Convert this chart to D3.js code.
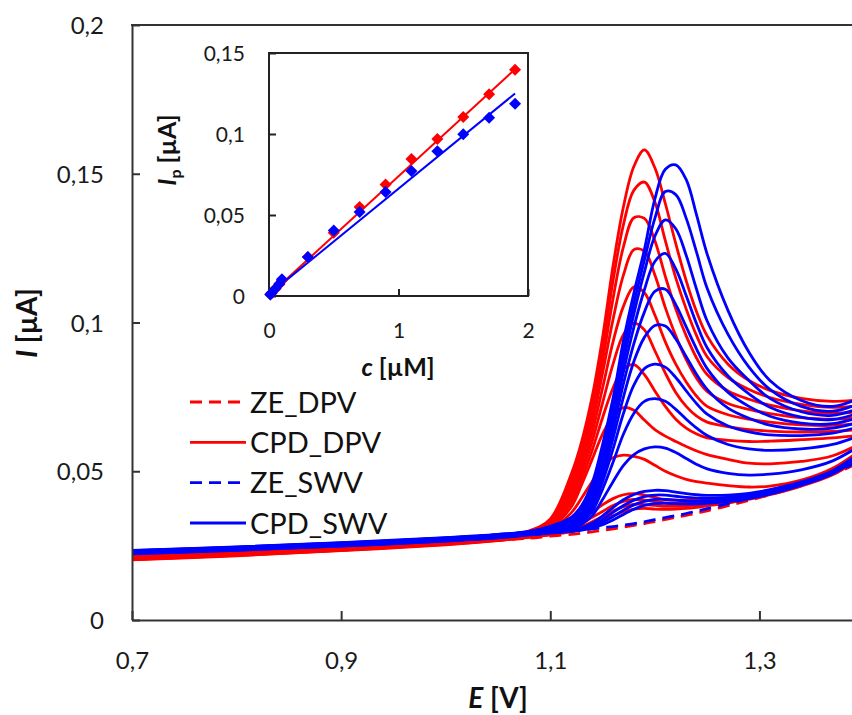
<!DOCTYPE html>
<html lang="en">
<head>
<meta charset="UTF-8">
<title>DPV / SWV voltammograms</title>
<script src="https://cdn.jsdelivr.net/npm/d3@7"></script>
<style>
  body { margin: 0; background: #fff; }
  svg { display: block; font-family: Lato, "Open Sans", sans-serif; }
</style>
</head>
<body>
<svg width="852" height="715"></svg>
<script>
// potential grid (V), shared by every voltammogram
var potentials = [0.70, 0.80, 0.90, 1.00, 1.05, 1.08, 1.10, 1.12, 1.13, 1.14, 1.15, 1.16, 1.17, 1.18, 1.19,
                  1.20, 1.21, 1.22, 1.23, 1.24, 1.25, 1.27, 1.29, 1.31, 1.34, 1.37, 1.40];

// blank electrode, DPV (uA)
var zeDpv = [0.0205, 0.0219, 0.0236, 0.0256, 0.0268, 0.0275, 0.0282, 0.0288, 0.0292, 0.0296, 0.0301, 0.0306, 0.0312, 0.0318, 0.0324,
             0.0331, 0.0338, 0.0345, 0.0352, 0.0359, 0.0367, 0.0384, 0.0402, 0.0421, 0.0452, 0.0490, 0.0535];

// CPD, DPV - one row per concentration, highest first
var cpdDpv = [
  [0.0214, 0.0228, 0.0245, 0.0265, 0.0279, 0.0300, 0.0340, 0.0490, 0.0600, 0.0750, 0.0950, 0.1190, 0.1390, 0.1525, 0.1580, 0.1520, 0.1400, 0.1265, 0.1140, 0.1035, 0.0955, 0.0860, 0.0805, 0.0772, 0.0745, 0.0735, 0.0742],
  [0.0213, 0.0227, 0.0244, 0.0264, 0.0278, 0.0298, 0.0335, 0.0472, 0.0578, 0.0720, 0.0910, 0.1140, 0.1330, 0.1445, 0.1472, 0.1405, 0.1275, 0.1150, 0.1045, 0.0955, 0.0885, 0.0815, 0.0775, 0.0748, 0.0725, 0.0715, 0.0722],
  [0.0212, 0.0226, 0.0243, 0.0263, 0.0277, 0.0296, 0.0330, 0.0455, 0.0555, 0.0690, 0.0870, 0.1080, 0.1255, 0.1352, 0.1350, 0.1275, 0.1155, 0.1045, 0.0955, 0.0880, 0.0825, 0.0770, 0.0742, 0.0722, 0.0703, 0.0695, 0.0702],
  [0.0211, 0.0225, 0.0242, 0.0262, 0.0276, 0.0294, 0.0326, 0.0440, 0.0535, 0.0660, 0.0830, 0.1010, 0.1160, 0.1245, 0.1240, 0.1160, 0.1050, 0.0955, 0.0875, 0.0812, 0.0768, 0.0728, 0.0708, 0.0694, 0.0680, 0.0675, 0.0682],
  [0.0210, 0.0224, 0.0241, 0.0261, 0.0275, 0.0292, 0.0322, 0.0425, 0.0515, 0.0630, 0.0780, 0.0935, 0.1055, 0.1120, 0.1100, 0.1025, 0.0935, 0.0860, 0.0800, 0.0752, 0.0718, 0.0690, 0.0675, 0.0665, 0.0656, 0.0654, 0.0662],
  [0.0209, 0.0223, 0.0240, 0.0260, 0.0274, 0.0290, 0.0318, 0.0410, 0.0495, 0.0600, 0.0730, 0.0860, 0.0960, 0.0998, 0.0975, 0.0905, 0.0830, 0.0765, 0.0718, 0.0685, 0.0665, 0.0650, 0.0640, 0.0635, 0.0632, 0.0634, 0.0642],
  [0.0208, 0.0222, 0.0239, 0.0259, 0.0273, 0.0288, 0.0314, 0.0395, 0.0475, 0.0570, 0.0680, 0.0780, 0.0845, 0.0858, 0.0825, 0.0770, 0.0718, 0.0675, 0.0645, 0.0625, 0.0612, 0.0604, 0.0600, 0.0601, 0.0606, 0.0612, 0.0622],
  [0.0207, 0.0221, 0.0238, 0.0258, 0.0272, 0.0286, 0.0310, 0.0380, 0.0455, 0.0540, 0.0625, 0.0685, 0.0714, 0.0705, 0.0672, 0.0640, 0.0618, 0.0600, 0.0583, 0.0568, 0.0556, 0.0540, 0.0527, 0.0525, 0.0533, 0.0552, 0.0600],
  [0.0206, 0.0220, 0.0237, 0.0257, 0.0271, 0.0284, 0.0305, 0.0360, 0.0410, 0.0465, 0.0515, 0.0545, 0.0554, 0.0550, 0.0540, 0.0520, 0.0500, 0.0485, 0.0473, 0.0465, 0.0460, 0.0452, 0.0447, 0.0450, 0.0470, 0.0510, 0.0580],
  [0.0205, 0.0219, 0.0236, 0.0256, 0.0270, 0.0281, 0.0294, 0.0318, 0.0338, 0.0362, 0.0387, 0.0408, 0.0421, 0.0425, 0.0420, 0.0412, 0.0405, 0.0403, 0.0403, 0.0404, 0.0406, 0.0412, 0.0422, 0.0436, 0.0462, 0.0500, 0.0568],
  [0.0204, 0.0218, 0.0235, 0.0255, 0.0269, 0.0280, 0.0291, 0.0310, 0.0325, 0.0345, 0.0365, 0.0385, 0.0399, 0.0405, 0.0403, 0.0398, 0.0394, 0.0393, 0.0394, 0.0396, 0.0399, 0.0406, 0.0417, 0.0431, 0.0458, 0.0496, 0.0563],
  [0.0203, 0.0217, 0.0234, 0.0254, 0.0268, 0.0279, 0.0288, 0.0302, 0.0314, 0.0330, 0.0348, 0.0366, 0.0381, 0.0389, 0.0388, 0.0385, 0.0382, 0.0382, 0.0384, 0.0387, 0.0391, 0.0399, 0.0411, 0.0426, 0.0454, 0.0492, 0.0558],
  [0.0202, 0.0216, 0.0233, 0.0253, 0.0267, 0.0278, 0.0286, 0.0297, 0.0306, 0.0318, 0.0333, 0.0350, 0.0364, 0.0373, 0.0375, 0.0373, 0.0372, 0.0373, 0.0375, 0.0379, 0.0384, 0.0393, 0.0406, 0.0421, 0.0450, 0.0488, 0.0553]
];

// blank electrode, SWV (uA)
var zeSwv = [0.0228, 0.0240, 0.0253, 0.0268, 0.0278, 0.0286, 0.0292, 0.0298, 0.0302, 0.0306, 0.0310, 0.0314, 0.0319, 0.0324, 0.0330,
             0.0337, 0.0344, 0.0351, 0.0358, 0.0366, 0.0374, 0.0391, 0.0409, 0.0428, 0.0459, 0.0494, 0.0540];

// CPD, SWV - one row per concentration, highest first
var cpdSwv = [
  [0.0234, 0.0246, 0.0260, 0.0277, 0.0288, 0.0298, 0.0315, 0.0345, 0.0385, 0.0460, 0.0590, 0.0745, 0.0940, 0.1100, 0.1245, 0.1415, 0.1515, 0.1530, 0.1480, 0.1360, 0.1230, 0.1040, 0.0900, 0.0805, 0.0738, 0.0718, 0.0752],
  [0.0233, 0.0245, 0.0259, 0.0276, 0.0287, 0.0297, 0.0313, 0.0340, 0.0375, 0.0445, 0.0565, 0.0715, 0.0905, 0.1065, 0.1210, 0.1350, 0.1440, 0.1430, 0.1350, 0.1235, 0.1115, 0.0960, 0.0850, 0.0775, 0.0718, 0.0702, 0.0735],
  [0.0232, 0.0244, 0.0258, 0.0275, 0.0286, 0.0296, 0.0311, 0.0335, 0.0365, 0.0430, 0.0545, 0.0690, 0.0870, 0.1030, 0.1170, 0.1290, 0.1345, 0.1315, 0.1225, 0.1110, 0.1005, 0.0880, 0.0805, 0.0745, 0.0700, 0.0688, 0.0718],
  [0.0231, 0.0243, 0.0257, 0.0274, 0.0285, 0.0295, 0.0309, 0.0330, 0.0357, 0.0415, 0.0525, 0.0665, 0.0835, 0.0985, 0.1110, 0.1205, 0.1232, 0.1180, 0.1090, 0.0995, 0.0915, 0.0820, 0.0760, 0.0715, 0.0682, 0.0674, 0.0702],
  [0.0230, 0.0242, 0.0256, 0.0273, 0.0284, 0.0294, 0.0307, 0.0325, 0.0350, 0.0402, 0.0505, 0.0640, 0.0795, 0.0930, 0.1035, 0.1105, 0.1112, 0.1060, 0.0985, 0.0910, 0.0845, 0.0765, 0.0718, 0.0685, 0.0662, 0.0660, 0.0686],
  [0.0229, 0.0241, 0.0255, 0.0272, 0.0283, 0.0293, 0.0305, 0.0320, 0.0343, 0.0390, 0.0485, 0.0610, 0.0750, 0.0870, 0.0950, 0.0990, 0.0988, 0.0945, 0.0885, 0.0825, 0.0775, 0.0712, 0.0678, 0.0655, 0.0642, 0.0645, 0.0670],
  [0.0228, 0.0240, 0.0254, 0.0271, 0.0282, 0.0292, 0.0303, 0.0315, 0.0336, 0.0378, 0.0465, 0.0575, 0.0695, 0.0790, 0.0845, 0.0860, 0.0850, 0.0815, 0.0770, 0.0727, 0.0692, 0.0652, 0.0632, 0.0622, 0.0620, 0.0628, 0.0655],
  [0.0227, 0.0239, 0.0253, 0.0270, 0.0281, 0.0291, 0.0301, 0.0310, 0.0330, 0.0365, 0.0440, 0.0530, 0.0625, 0.0695, 0.0735, 0.0744, 0.0735, 0.0708, 0.0675, 0.0645, 0.0620, 0.0590, 0.0575, 0.0570, 0.0575, 0.0590, 0.0625],
  [0.0226, 0.0238, 0.0252, 0.0269, 0.0280, 0.0290, 0.0299, 0.0305, 0.0322, 0.0350, 0.0405, 0.0465, 0.0520, 0.0556, 0.0575, 0.0582, 0.0578, 0.0563, 0.0543, 0.0523, 0.0508, 0.0493, 0.0487, 0.0490, 0.0505, 0.0535, 0.0595],
  [0.0225, 0.0237, 0.0251, 0.0268, 0.0279, 0.0289, 0.0297, 0.0302, 0.0310, 0.0325, 0.0350, 0.0378, 0.0404, 0.0422, 0.0432, 0.0436, 0.0435, 0.0430, 0.0425, 0.0421, 0.0419, 0.0420, 0.0426, 0.0438, 0.0464, 0.0502, 0.0572],
  [0.0224, 0.0236, 0.0250, 0.0267, 0.0278, 0.0288, 0.0295, 0.0300, 0.0306, 0.0318, 0.0338, 0.0362, 0.0385, 0.0403, 0.0415, 0.0420, 0.0420, 0.0416, 0.0412, 0.0410, 0.0409, 0.0412, 0.0419, 0.0432, 0.0460, 0.0498, 0.0567],
  [0.0223, 0.0235, 0.0249, 0.0266, 0.0277, 0.0287, 0.0294, 0.0299, 0.0304, 0.0313, 0.0328, 0.0348, 0.0369, 0.0387, 0.0399, 0.0405, 0.0405, 0.0403, 0.0400, 0.0399, 0.0400, 0.0404, 0.0413, 0.0427, 0.0456, 0.0495, 0.0562],
  [0.0222, 0.0234, 0.0248, 0.0265, 0.0276, 0.0286, 0.0293, 0.0298, 0.0302, 0.0309, 0.0320, 0.0336, 0.0355, 0.0372, 0.0385, 0.0391, 0.0392, 0.0391, 0.0390, 0.0390, 0.0392, 0.0398, 0.0408, 0.0423, 0.0453, 0.0492, 0.0557]
];

// inset: calibration (c in uM, Ip in uA)
var conc   = [0.01, 0.02, 0.05, 0.08, 0.1, 0.3, 0.5, 0.7, 0.9, 1.1, 1.3, 1.5, 1.7, 1.9];
var ipDpv  = [0.0010, 0.0018, 0.0045, 0.0072, 0.0095, 0.0240, 0.0390, 0.0549, 0.0689, 0.0846, 0.0969, 0.1105, 0.1245, 0.1397];
var ipSwv  = [0.0010, 0.0019, 0.0046, 0.0075, 0.0103, 0.0240, 0.0405, 0.0519, 0.0642, 0.0772, 0.0893, 0.0998, 0.1101, 0.1187];
var fitDpv = [[0, 0.0005], [1.9, 0.1400]];
var fitSwv = [[0, 0.0010], [1.9, 0.1250]];

var xTicks = [0.7, 0.9, 1.1, 1.3];
var yTicks = [0, 0.05, 0.1, 0.15, 0.2];
var insetXTicks = [0, 1, 2];
var insetYTicks = [0, 0.05, 0.1, 0.15];
var legendNames = ["ZE_DPV", "CPD_DPV", "ZE_SWV", "CPD_SWV"];

var RED = "#ff0000", BLUE = "#0000ff", AXIS = "#333";
var comma = function(d) { return String(d).replace(".", ","); };

var svg = d3.select("svg");

// ---------- main chart ----------
var x = d3.scaleLinear().domain([0.7, 1.4]).range([132, 864]);
var y = d3.scaleLinear().domain([0, 0.2]).range([620, 25]);

svg.append("clipPath").attr("id", "plot")
  .append("rect").attr("x", 132).attr("y", 25).attr("width", 732).attr("height", 595);

var line = d3.line()
  .x(function(d, i) { return x(potentials[i]); })
  .y(function(d) { return y(d); })
  .curve(d3.curveCatmullRom.alpha(0.5));

var curves = svg.append("g").attr("clip-path", "url(#plot)")
  .attr("fill", "none").attr("stroke-width", 2.8).attr("stroke-linejoin", "round");

// same order as the legend
curves.append("path").attr("d", line(zeDpv)).attr("stroke", RED).attr("stroke-dasharray", "12,7");
curves.selectAll(".dpv").data(cpdDpv).enter().append("path")
  .attr("class", "dpv").attr("d", line).attr("stroke", RED);
curves.append("path").attr("d", line(zeSwv)).attr("stroke", BLUE).attr("stroke-dasharray", "12,7");
curves.selectAll(".swv").data(cpdSwv).enter().append("path")
  .attr("class", "swv").attr("d", line).attr("stroke", BLUE);

// axes, ticks pointing inwards
var xAxis = svg.append("g").attr("transform", "translate(0,620)")
  .call(d3.axisBottom(x).tickValues(xTicks).tickFormat(comma).tickSize(-9).tickSizeOuter(0).tickPadding(32));
var yAxis = svg.append("g").attr("transform", "translate(132,0)")
  .call(d3.axisLeft(y).tickValues(yTicks).tickFormat(comma).tickSize(-8).tickSizeOuter(0).tickPadding(28));

[xAxis, yAxis].forEach(function(a) {
  a.selectAll("path, line").attr("stroke", AXIS).attr("stroke-width", 2);
  a.selectAll("text").attr("font-family", "Lato").attr("font-size", 24).attr("fill", "#1a1a1a");
});
yAxis.selectAll("text").attr("dy", "0.36em");

svg.append("line").attr("x1", 131).attr("x2", 864).attr("y1", 25).attr("y2", 25)
  .attr("stroke", AXIS).attr("stroke-width", 2);

// axis titles
svg.append("text").attr("x", 498).attr("y", 708).attr("text-anchor", "middle")
  .attr("font-size", 28).attr("font-weight", "bold").attr("fill", "#111")
  .call(function(t) {
    t.append("tspan").attr("font-style", "italic").text("E");
    t.append("tspan").text(" [V]");
  });
svg.append("text").attr("transform", "translate(37,323) rotate(-90)").attr("text-anchor", "middle")
  .attr("font-size", 28).attr("font-weight", "bold").attr("fill", "#111")
  .call(function(t) {
    t.append("tspan").attr("font-style", "italic").text("I");
    t.append("tspan").text(" [µA]");
  });

// legend
var legendY = d3.scalePoint().domain(legendNames).range([402, 523]);
var legend = svg.append("g");
legendNames.forEach(function(name, i) {
  var ly = legendY(name);
  legend.append("line").attr("x1", 190).attr("x2", 246).attr("y1", ly).attr("y2", ly)
    .attr("stroke", i < 2 ? RED : BLUE).attr("stroke-width", 2.8)
    .attr("stroke-dasharray", i % 2 === 0 ? "12,7" : null);
  legend.append("text").attr("x", 250).attr("y", ly + 10.5)
    .attr("font-size", 29).attr("fill", "#111").text(name);
});

// ---------- inset ----------
var ix = d3.scaleLinear().domain([0, 2]).range([269, 528]);
var iy = d3.scaleLinear().domain([0, 0.15]).range([296, 53]);

svg.append("rect").attr("x", 269).attr("y", 53).attr("width", 259).attr("height", 243)
  .attr("fill", "#fff").attr("stroke", "#222").attr("stroke-width", 2);

var ixAxis = svg.append("g").attr("transform", "translate(0,296)")
  .call(d3.axisBottom(ix).tickValues(insetXTicks).tickFormat(comma).tickSize(-7).tickSizeOuter(0).tickPadding(27));
var iyAxis = svg.append("g").attr("transform", "translate(269,0)")
  .call(d3.axisLeft(iy).tickValues(insetYTicks).tickFormat(comma).tickSize(-7).tickSizeOuter(0).tickPadding(24));
[ixAxis, iyAxis].forEach(function(a) {
  a.select(".domain").remove();
  a.selectAll("line").attr("stroke", "#222").attr("stroke-width", 2);
  a.selectAll("text").attr("font-family", "Lato").attr("font-size", 21).attr("fill", "#1a1a1a");
});
iyAxis.selectAll("text").attr("dy", "0.36em");

var fitLine = d3.line().x(function(d) { return ix(d[0]); }).y(function(d) { return iy(d[1]); });
svg.append("path").attr("d", fitLine(fitDpv)).attr("stroke", RED).attr("stroke-width", 2).attr("fill", "none");
svg.append("path").attr("d", fitLine(fitSwv)).attr("stroke", BLUE).attr("stroke-width", 2).attr("fill", "none");

var diamond = d3.symbol().type(d3.symbolSquare).size(72);
[[ipDpv, RED], [ipSwv, BLUE]].forEach(function(s) {
  svg.append("g").selectAll("path").data(s[0]).enter().append("path")
    .attr("d", diamond)
    .attr("transform", function(d, i) { return "translate(" + ix(conc[i]) + "," + iy(d) + ") rotate(45)"; })
    .attr("fill", s[1]);
});

svg.append("text").attr("x", 398).attr("y", 376).attr("text-anchor", "middle")
  .attr("font-size", 25).attr("font-weight", "bold").attr("fill", "#111")
  .call(function(t) {
    t.append("tspan").attr("font-style", "italic").text("c");
    t.append("tspan").text(" [µM]");
  });
svg.append("text").attr("transform", "translate(176,150) rotate(-90)").attr("text-anchor", "middle")
  .attr("font-size", 25).attr("font-weight", "bold").attr("fill", "#111")
  .call(function(t) {
    t.append("tspan").attr("font-style", "italic").text("I");
    t.append("tspan").attr("font-size", 16).attr("dy", 5).text("p");
    t.append("tspan").attr("dy", -5).text(" [µA]");
  });
</script>
</body>
</html>
